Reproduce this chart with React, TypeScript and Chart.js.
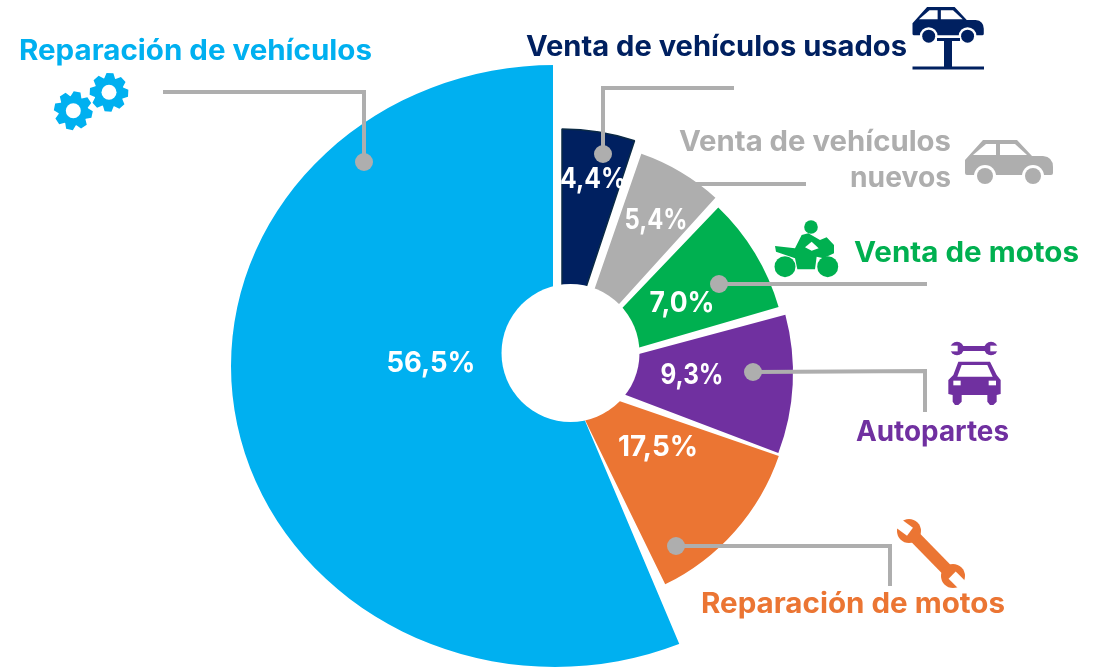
import React, { useEffect, useRef } from "react";
import Chart from "chart.js/auto";

const W = 1105;
const H = 668;

// Categories, clockwise from 12 o'clock.
const categories = [
  "Venta de vehículos usados",
  "Venta de vehículos nuevos",
  "Venta de motos",
  "Autopartes",
  "Reparación de motos",
  "Reparación de vehículos",
];
// Percentages printed on the wedges.
const printedShares = [4.4, 5.4, 7.0, 9.3, 17.5, 56.5];
// Angular width of each wedge in degrees
// (the reference's wedges are not proportional to the printed shares).
const drawnSweeps = [18.7, 24.3, 31.4, 35.6, 45.5, 204.5];
const colors = ["#002060", "#AEAEAE", "#00B050", "#7030A0", "#EB7533", "#00B0F0"];
const borderWidths = [1.5, 0, 0, 0, 0, 0];

// Exploded-wedge layout.
const apexX = [562, 571, 563.5, 568, 567, 553];
const apexY = [360, 357, 369.5, 373, 383, 345];
const outerRadii = [231, 215, 224, 225, 224, 301];
const trimStart = [0, 0.4, 0.7, 0.6, -1, 1.6];
const trimEnd = [0.4, 0.8, 0.6, -0.8, 1.5, 0];
const FONT = "Inter";

const BIG = 5;
// The big wedge's rim is an ellipse that is not centred on its apex.
const bigRim = { x: 555, y: 366, rx: 324, ry: 301 };
const hole = { x: 570.5, y: 353, r: 69 };
const GREY = "#AEAEAE";

const valuePos = [
  [593, 180],
  [656, 221],
  [682, 304],
  [692, 376],
  [658, 448],
  [431, 364],
];
const valueWidths = [66, 63, 65, 63, 80, 89];

type Txt = [string, number, number, number, string];
const labelTexts: Txt[] = [
  ["Reparación de vehículos", 19, 60, 353, colors[5]],
  ["Venta de vehículos usados", 526, 56, 381, colors[0]],
  ["Venta de vehículos", 679, 151, 272, colors[1]],
  ["nuevos", 850, 187, 101, colors[1]],
  ["Venta de motos", 854, 262, 225, colors[2]],
  ["Autopartes", 856, 441, 153, colors[3]],
  ["Reparación de motos", 701, 613, 304, colors[4]],
];

const leaders: { pts: number[][]; dot: boolean }[] = [
  { pts: [[163, 92], [364, 92], [364, 162]], dot: true },
  { pts: [[734, 88], [603, 88], [603, 154]], dot: true },
  { pts: [[693, 184], [806, 184]], dot: false },
  { pts: [[927, 284], [719, 284]], dot: true },
  { pts: [[925, 412], [925, 371], [753, 372]], dot: true },
  { pts: [[890, 586], [890, 546], [676, 546]], dot: true },
];

function poly(ctx: CanvasRenderingContext2D, pts: number[][], color: string) {
  ctx.fillStyle = color;
  ctx.beginPath();
  pts.forEach(([x, y], i) => (i ? ctx.lineTo(x, y) : ctx.moveTo(x, y)));
  ctx.closePath();
  ctx.fill();
}
function disc(ctx: CanvasRenderingContext2D, x: number, y: number, r: number, color: string) {
  ctx.fillStyle = color;
  ctx.beginPath();
  ctx.arc(x, y, r, 0, Math.PI * 2);
  ctx.fill();
}
function sideCar(ctx: CanvasRenderingContext2D, x: number, y: number, s: number, color: string) {
  ctx.save();
  ctx.translate(x, y);
  ctx.scale(s, s);
  ctx.fillStyle = color;
  ctx.beginPath();
  ctx.moveTo(0, 20);
  ctx.lineTo(18, 0);
  ctx.lineTo(52, 0);
  ctx.lineTo(67, 16);
  ctx.lineTo(78, 16);
  ctx.quadraticCurveTo(88, 17, 88, 27);
  ctx.lineTo(88, 33);
  ctx.quadraticCurveTo(88, 35, 86, 35);
  ctx.lineTo(2, 35);
  ctx.quadraticCurveTo(0, 35, 0, 33);
  ctx.closePath();
  ctx.fill();
  poly(ctx, [[8, 15], [21, 4], [31, 4], [31, 15]], "#fff");
  poly(ctx, [[35, 4], [50, 4], [62, 15], [35, 15]], "#fff");
  for (const wx of [20, 68]) {
    disc(ctx, wx, 36, 11, "#fff");
    disc(ctx, wx, 36, 8, color);
  }
  ctx.restore();
}
function gear(ctx: CanvasRenderingContext2D, cx: number, cy: number, r: number, hr: number, color: string, rot: number) {
  const n = 8;
  ctx.fillStyle = color;
  ctx.beginPath();
  for (let i = 0; i < n; i++) {
    const a = rot + (i * Math.PI * 2) / n;
    const st = Math.PI / n;
    const inner = r * 0.76;
    const pts = [
      [a - st * 0.95, inner],
      [a - st * 0.45, r],
      [a + st * 0.45, r],
      [a + st * 0.95, inner],
    ];
    pts.forEach(([t, rr], k) => {
      const px = cx + Math.cos(t) * rr;
      const py = cy + Math.sin(t) * rr;
      if (i === 0 && k === 0) ctx.moveTo(px, py);
      else ctx.lineTo(px, py);
    });
  }
  ctx.closePath();
  ctx.fill();
  disc(ctx, cx, cy, hr, "#fff");
}
function wrench(
  ctx: CanvasRenderingContext2D,
  x1: number, y1: number, a1: number,
  x2: number, y2: number, a2: number,
  w: number, r: number, color: string
) {
  ctx.strokeStyle = color;
  ctx.lineWidth = w;
  ctx.lineCap = "butt";
  ctx.beginPath();
  ctx.moveTo(x1, y1);
  ctx.lineTo(x2, y2);
  ctx.stroke();
  for (const [x, y, a] of [[x1, y1, a1], [x2, y2, a2]]) {
    disc(ctx, x, y, r, color);
    ctx.save();
    ctx.translate(x, y);
    ctx.rotate(a);
    ctx.fillStyle = "#fff";
    ctx.fillRect(-r * 0.1, -r * 0.42, r * 1.3, r * 0.84);
    ctx.restore();
  }
}
function drawIcons(ctx: CanvasRenderingContext2D) {
  // gears
  gear(ctx, 73.3, 110.7, 19.5, 7.5, colors[5], 0.2);
  gear(ctx, 109, 92.3, 19.5, 7.5, colors[5], 0.05);
  // car on lift
  sideCar(ctx, 912.5, 7, 0.81, colors[0]);
  ctx.fillStyle = colors[0];
  ctx.fillRect(937, 38, 23, 3);
  ctx.fillRect(944, 38, 8, 30);
  ctx.fillRect(912.5, 66.5, 71.5, 3);
  // grey car
  sideCar(ctx, 965, 140, 1, colors[1]);
  // motorcycle
  const m = (p: number[][]) => p.map(([x, y]) => [760 + x / 3, y / 3]);
  disc(ctx, 811, 227, 6.8, colors[2]);
  disc(ctx, 785, 266.7, 10.5, colors[2]);
  disc(ctx, 827.7, 266.7, 10.5, colors[2]);
  poly(ctx, m([[45, 738], [105, 745], [125, 705], [145, 700], [180, 720], [200, 712], [222, 735], [222, 760], [190, 775], [170, 770], [165, 808], [112, 808], [105, 775], [48, 755]]), colors[2]);
  poly(ctx, m([[135, 742], [155, 725], [176, 745], [155, 752]]), "#fff");
  // car seen from the front, with spanner
  const pc = (p: number[][]) => p.map(([x, y]) => [680 + x / 3, 330 + y / 3]);
  poly(ctx, pc([[835, 95], [930, 95], [950, 135], [962, 150], [962, 192], [950, 195], [950, 215], [940, 225], [930, 225], [922, 215], [922, 195], [845, 195], [845, 215], [835, 225], [825, 225], [818, 215], [818, 195], [805, 192], [805, 150], [820, 135]]), colors[3]);
  poly(ctx, pc([[845, 105], [922, 105], [938, 140], [832, 140]]), "#fff");
  poly(ctx, pc([[820, 152], [842, 152], [842, 166], [820, 166]]), "#fff");
  poly(ctx, pc([[926, 152], [948, 152], [948, 166], [926, 166]]), "#fff");
  wrench(ctx, 957, 348.5, Math.PI, 991, 348.5, 0, 5, 6.8, colors[3]);
  // orange spanner
  wrench(ctx, 909, 531, Math.PI * 1.2, 953, 576, Math.PI * 0.25, 12, 12, colors[4]);
}

const overlay = {
  id: "overlay",
  beforeDatasetDraw(chart: any, args: any) {
    const ctx: CanvasRenderingContext2D = chart.ctx;
    const meta = args.meta;
    meta.data.forEach((arc: any, i: number) => {
      const keep = {
        x: arc.x, y: arc.y, s: arc.startAngle, e: arc.endAngle,
        c: arc.circumference, ir: arc.innerRadius, or: arc.outerRadius,
      };
      const ax = apexX[i];
      const ay = apexY[i];
      const start = keep.s + (trimStart[i] * Math.PI) / 180;
      const end = keep.e - (trimEnd[i] * Math.PI) / 180;
      ctx.save();
      arc.innerRadius = 0;
      arc.outerRadius = outerRadii[i];
      if (i === BIG) {
        ctx.beginPath();
        ctx.moveTo(ax, ay);
        ctx.arc(ax, ay, 900, start, end);
        ctx.closePath();
        ctx.clip();
        ctx.translate(bigRim.x, bigRim.y);
        ctx.scale(bigRim.rx / bigRim.ry, 1);
        arc.x = 0;
        arc.y = 0;
        arc.startAngle = 0;
        arc.endAngle = Math.PI * 2;
        arc.circumference = Math.PI * 2;
      } else {
        arc.x = ax;
        arc.y = ay;
        arc.startAngle = start;
        arc.endAngle = end;
        arc.circumference = end - start;
      }
      arc.draw(ctx);
      ctx.restore();
      arc.x = keep.x;
      arc.y = keep.y;
      arc.startAngle = keep.s;
      arc.endAngle = keep.e;
      arc.circumference = keep.c;
      arc.innerRadius = keep.ir;
      arc.outerRadius = keep.or;
    });
    return false;
  },
  afterDraw(chart: any) {
    const ctx: CanvasRenderingContext2D = chart.ctx;
    ctx.save();
    disc(ctx, hole.x, hole.y, hole.r, "#fff");

    ctx.strokeStyle = GREY;
    ctx.lineWidth = 4;
    ctx.lineJoin = "miter";
    leaders.forEach(({ pts, dot }) => {
      ctx.beginPath();
      pts.forEach(([x, y], i) => (i ? ctx.lineTo(x, y) : ctx.moveTo(x, y)));
      ctx.stroke();
      if (dot) {
        const [x, y] = pts[pts.length - 1];
        disc(ctx, x, y, 9, GREY);
      }
    });

    ctx.textBaseline = "alphabetic";
    ctx.textAlign = "left";
    ctx.font = `700 28px ${FONT}`;
    labelTexts.forEach(([t, x, y, w, c]) => {
      const mw = ctx.measureText(t).width;
      ctx.save();
      ctx.translate(x, y);
      ctx.scale(w / mw, 1);
      ctx.fillStyle = c;
      ctx.fillText(t, 0, 0);
      ctx.restore();
    });

    ctx.textAlign = "center";
    ctx.textBaseline = "middle";
    ctx.font = `700 28px ${FONT}`;
    ctx.fillStyle = "#fff";
    printedShares.forEach((v, i) => {
      const [x, y] = valuePos[i];
      const t = `${v.toFixed(1).replace(".", ",")}%`;
      const mw = ctx.measureText(t).width;
      ctx.save();
      ctx.translate(x, y);
      ctx.scale(valueWidths[i] / mw, 1);
      ctx.fillText(t, 0, 0);
      ctx.restore();
    });

    drawIcons(ctx);
    ctx.restore();
  },
};

export default function App() {
  const ref = useRef<HTMLCanvasElement>(null);
  useEffect(() => {
    const chart = new Chart(ref.current!, {
      type: "doughnut",
      data: {
        labels: categories,
        datasets: [
          {
            data: drawnSweeps,
            backgroundColor: colors,
            borderColor: ["#0B2A45", "#fff", "#fff", "#fff", "#fff", "#fff"],
            borderWidth: borderWidths,
          },
        ],
      },
      options: {
        responsive: false,
        animation: false,
        events: [],
        cutout: 0,
        layout: { padding: 0 },
        plugins: { legend: { display: false }, tooltip: { enabled: false } },
      },
      plugins: [overlay],
    } as any);
    return () => chart.destroy();
  }, []);
  return (
    <div style={{ position: "fixed", left: 0, top: 0, width: W, height: H, background: "#fff" }}>
      <canvas ref={ref} width={W} height={H} style={{ display: "block" }} />
    </div>
  );
}
